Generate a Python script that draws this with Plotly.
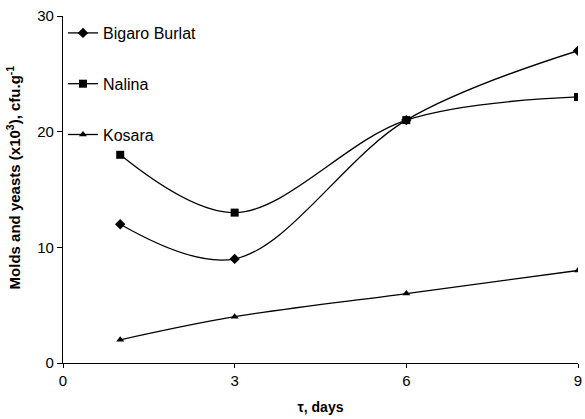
import plotly.graph_objects as go

days = [1, 3, 6, 9]
bigaro = [12, 9, 21, 27]
nalina = [18, 13, 21, 23]
kosara = [2, 4, 6, 8]
x_ticks = [0, 3, 6, 9]
y_ticks = [0, 10, 20, 30]

series = [
    ("Bigaro Burlat", bigaro, "diamond", 8),
    ("Nalina", nalina, "square", 8),
    ("Kosara", kosara, "triangle-up", 7),
]

fig = go.Figure()
for i, (name, vals, sym, sz) in enumerate(series):
    fig.add_trace(go.Scatter(
        x=days, y=vals, name=name, mode="lines+markers",
        line=dict(color="black", width=1.3, shape="spline", smoothing=1),
        marker=dict(symbol=sym, size=sz, color="black"),
        legendgroup=f"g{i}",
    ))

fig.update_layout(
    width=585, height=419,
    margin=dict(l=63, r=3, t=16, b=56),
    paper_bgcolor="white", plot_bgcolor="white",
    font=dict(family="Liberation Sans, Arial, sans-serif", size=15, color="black"),
    legend=dict(x=0.0, y=1.0, xanchor="left", yanchor="top",
                bgcolor="rgba(0,0,0,0)", tracegroupgap=27, itemwidth=30,
                font=dict(size=16)),
    showlegend=True,
    annotations=[dict(
        text="<b>Molds and yeasts (x10<sup>3</sup>), cfu.g<sup>-1</sup></b>",
        xref="paper", yref="paper", x=-0.097, y=0.535,
        xanchor="center", yanchor="middle", textangle=-90, showarrow=False,
        font=dict(size=15),
    )],
)
fig.update_xaxes(
    range=[0, 9], tickvals=x_ticks, ticks="outside", ticklen=4, tickcolor="black",
    showline=True, linecolor="black", linewidth=1.3, showgrid=False, zeroline=False,
    ticklabeloverflow="allow",
    title=dict(text="<b>τ, days</b>", font=dict(size=14), standoff=14),
)
fig.update_yaxes(
    range=[0, 30], tickvals=y_ticks, ticks="outside", ticklen=5, tickcolor="black",
    showline=True, linecolor="black", linewidth=1.3, showgrid=False, zeroline=False,
    ticklabeloverflow="allow",
)
fig.write_html("out.html")
